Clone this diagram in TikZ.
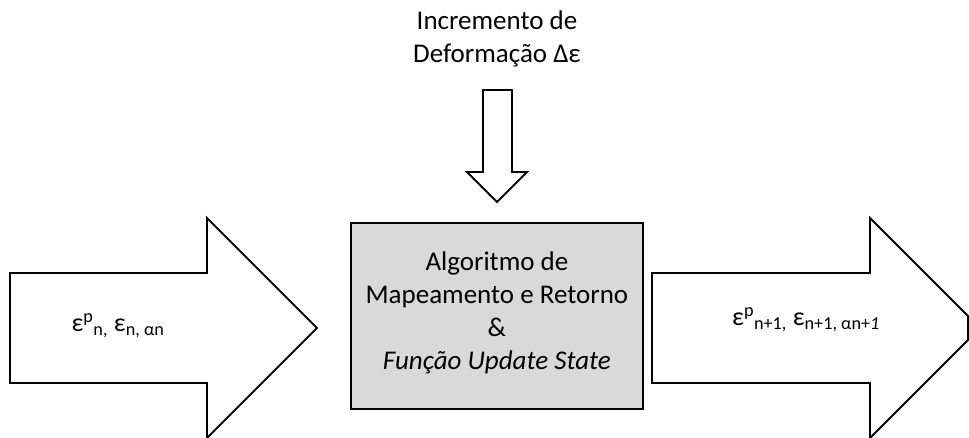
\documentclass[tikz,border=0pt]{standalone}
\usepackage{fontspec}
\setmainfont{Carlito}
\begin{document}
\begin{tikzpicture}[x=1pt,y=-1pt,
  blockarrow/.style={draw=black,line width=1.8pt,fill=white,line join=miter},
  procbox/.style={draw=black,line width=1.8pt,fill=black!15},
  lbl/.style={font=\fontsize{27}{33}\selectfont,align=center,inner sep=0pt},
  statelbl/.style={font=\fontsize{26}{30}\selectfont,inner sep=0pt}]
\useasboundingbox (0,0) rectangle (969,438);

% input state arrow
\draw[blockarrow] (10,273) -- (207,273) -- (207,218) -- (317,328) -- (207,438) -- (207,383) -- (10,383) -- cycle;
% output state arrow
\draw[blockarrow] (652,273) -- (870,273) -- (870,218) -- (968,316) -- (968,340) -- (870,438) -- (870,383) -- (652,383) -- cycle;
% strain increment arrow
\draw[blockarrow] (483,90) -- (512,90) -- (512,172) -- (527,172) -- (497,202) -- (467,172) -- (483,172) -- cycle;

% central process
\node[procbox,minimum width=292pt,minimum height=186pt,anchor=north west] (proc) at (350,222) {};
\node[lbl] (proctxt) at ([yshift=3pt]proc.center) {Algoritmo de\\Mapeamento e Retorno\\\&\\\textit{Função Update State}};

\node[lbl] (incr) at (497,39) {Incremento de\\Deformação Δε};

\node[statelbl] (instate) at (118,326) {ε\textsuperscript{p}\textsubscript{n,} ε\textsubscript{n, αn}};
\node[statelbl] (outstate) at (806,320) {ε\textsuperscript{p}\textsubscript{n+1,} ε\textsubscript{n+1, αn+\textit{1}}};
\end{tikzpicture}
\end{document}
